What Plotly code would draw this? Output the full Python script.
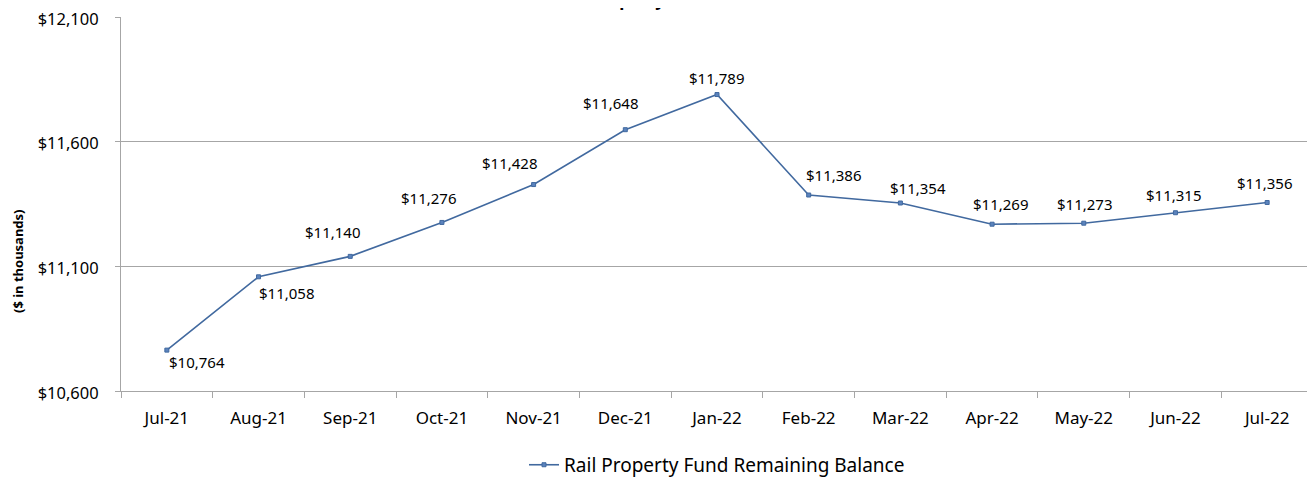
import plotly.graph_objects as go

months = ["Jul-21", "Aug-21", "Sep-21", "Oct-21", "Nov-21", "Dec-21", "Jan-22",
          "Feb-22", "Mar-22", "Apr-22", "May-22", "Jun-22", "Jul-22"]
balance = [10764, 11058, 11140, 11276, 11428, 11648, 11789,
           11386, 11354, 11269, 11273, 11315, 11356]
y_ticks = [10600, 11100, 11600, 12100]

# label nudges (px) so data labels sit like the Excel original
lbl_dx = [30, 28, -17, -13, -24, -14, 0, 25, 18, 9, 1, -1, -2]
lbl_dy = [-12, -16, 24, 24, 22, 27, 17, 20, 15, 20, 19, 18, 20]

font_main = "Noto Sans"
line_col = "#41699f"

fig = go.Figure()
fig.add_trace(go.Scatter(
    x=months, y=balance,
    mode="lines+markers",
    name="Rail Property Fund Remaining Balance",
    line=dict(color=line_col, width=1.6),
    marker=dict(symbol="square", size=4, color="#5b83bd", line=dict(color=line_col, width=1)),
    cliponaxis=False,
))

for m, v, dx, dy in zip(months, balance, lbl_dx, lbl_dy):
    fig.add_annotation(x=m, y=v, text=f"${v:,}", showarrow=False,
                       xanchor="center", yanchor="middle", xshift=dx, yshift=dy,
                       font=dict(family=font_main, size=15, color="#000000"))

# title sits mostly above the figure, only descenders peek in
fig.add_annotation(
    text="<b>Rail Property Fund</b>", xref="paper", yref="paper",
    x=0.362, y=1, xanchor="left", yanchor="bottom", yshift=4,
    showarrow=False, font=dict(family=font_main, size=17, color="#000000"),
)

fig.add_annotation(
    text="<b>($ in thousands)</b>", xref="paper", yref="paper",
    x=-0.0864, y=0.3476, xanchor="center", yanchor="middle", textangle=-90,
    showarrow=False, font=dict(family=font_main, size=13, color="#000000"),
)

# page body has an 8px margin, so the figure is a bit smaller than the window
fig.update_layout(
    width=1307, height=472,
    margin=dict(l=113, r=2, t=9, b=89),
    paper_bgcolor="white", plot_bgcolor="white",
    font=dict(family=font_main, size=15, color="#000000"),
    showlegend=True,
    legend=dict(orientation="h", x=0.5, xanchor="center", xref="paper",
                y=0.032, yanchor="middle", yref="container",
                font=dict(family=font_main, size=19), itemwidth=30),
)
fig.update_xaxes(
    type="category", tickson="boundaries", ticks="outside", ticklen=6,
    tickcolor="#a6a6a6", showline=True, linecolor="#a6a6a6", linewidth=1,
    showgrid=False, tickfont=dict(size=17), range=[-0.5, len(months) - 0.5],
    ticklabelstandoff=12, automargin=False,
)
fig.update_yaxes(
    range=[10600, 12100], tickvals=y_ticks, ticktext=[f"${v:,}" for v in y_ticks],
    ticks="outside", ticklen=5, tickcolor="#a6a6a6",
    showline=True, linecolor="#a6a6a6", linewidth=1,
    showgrid=True, gridcolor="#a6a6a6", gridwidth=1, zeroline=False,
    tickfont=dict(size=16.5), ticklabelstandoff=13, ticklabelshift=2,
    ticklabeloverflow="allow", automargin=False,
)

fig.write_html("out.html")
